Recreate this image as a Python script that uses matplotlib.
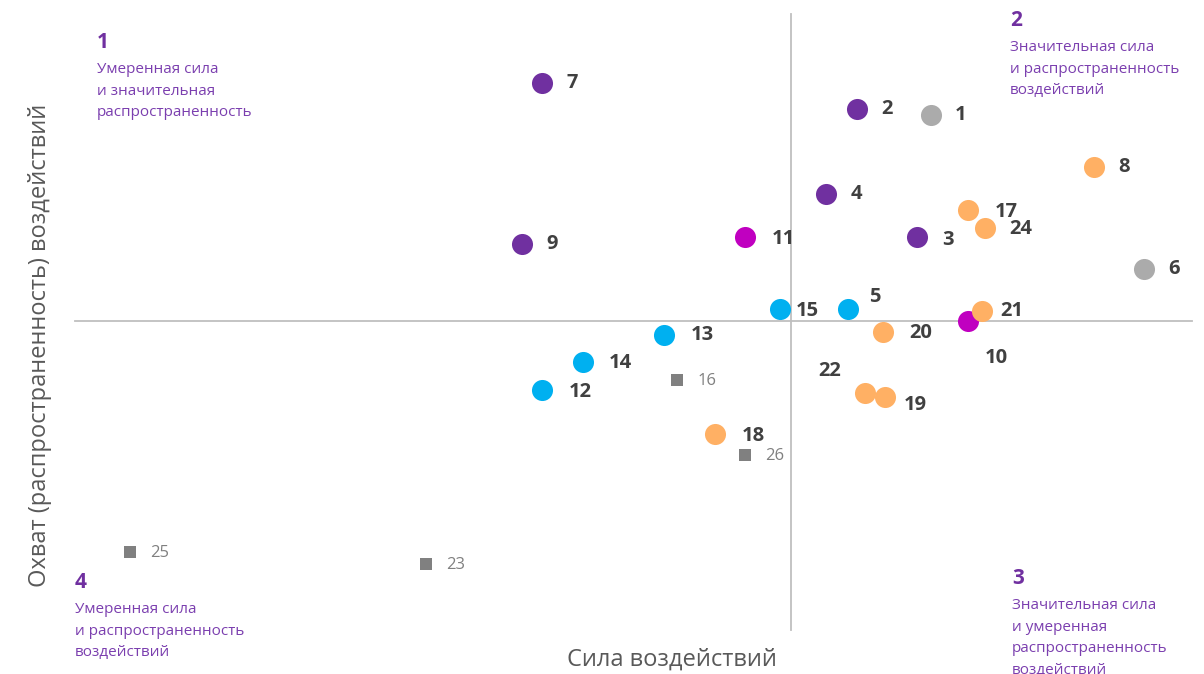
import matplotlib.pyplot as plt

plt.rcParams['font.family'] = ['Open Sans', 'DejaVu Sans']

# factor scores: strength (x) and coverage (y), axes cross at zero
ids = [1, 2, 3, 4, 5, 6, 7, 8, 9, 10, 11, 12, 13, 14, 15, 16, 17, 18, 19, 20, 21, 22, 23, 24, 25, 26]
strength = [2.8, 1.32, 2.52, 0.7, 1.14, 7.06, -4.98, 6.06, -5.38, 3.54, -0.92, -4.98, -2.54,
            -4.16, -0.22, -2.28, 3.54, -1.52, 1.88, 1.84, 3.82, 1.48, -7.3, 3.88, -13.22, -0.92]
coverage = [4.12, 4.24, 1.68, 2.54, 0.24, 1.04, 4.76, 3.08, 1.54, 0.0, 1.68, -1.38, -0.28,
            -0.82, 0.24, -1.18, 2.22, -2.26, -1.52, -0.22, 0.2, -1.44, -4.86, 1.86, -4.62, -2.68]
group = ['gray', 'purple', 'purple', 'purple', 'blue', 'gray', 'purple', 'orange', 'purple',
         'magenta', 'magenta', 'blue', 'blue', 'blue', 'blue', 'minor', 'orange', 'orange',
         'orange', 'orange', 'orange', 'orange', 'minor', 'orange', 'minor', 'minor']

colors = {'gray': '#ABABAB', 'purple': '#7030A0', 'orange': '#FFB064',
          'blue': '#00B0F0', 'magenta': '#C000C0', 'minor': '#808080'}

quadrants = [
    ('1', 'Умеренная сила\nи значительная\nраспространенность', 97, 42),
    ('2', 'Значительная сила\nи распространенность\nвоздействий', 1010, 20),
    ('3', 'Значительная сила\nи умеренная\nраспространенность\nвоздействий', 1012, 578),
    ('4', 'Умеренная сила\nи распространенность\nвоздействий', 75, 582),
]

W, H = 1204, 674
fig = plt.figure(figsize=(W / 100, H / 100), dpi=100)
ax = fig.add_axes([0, 0, 1, 1])
ax.set_xlim(-15.82, 8.26)
ax.set_ylim(-7.06, 6.42)
ax.axis('off')

# cross lines
ax.plot([-14.32, 8.02], [0, 0], color='#BFBFBF', lw=1.3, zorder=1)
ax.plot([0, 0], [-6.18, 6.14], color='#BFBFBF', lw=1.3, zorder=1)

# label offsets in pixels
offsets = {3: (31, -3), 5: (27, 12), 10: (28, -37), 11: (38, -2), 12: (38, -2), 13: (38, 0),
           14: (37, -1), 17: (38, -2), 18: (38, -2), 19: (30, -8), 20: (38, -1), 22: (-35, 22),
           24: (36, -1), 15: (27, -2)}

for i, xv, yv, g in zip(ids, strength, coverage, group):
    if g == 'minor':
        ax.scatter(xv, yv, s=70, marker='s', color=colors[g], linewidths=0, zorder=3)
        ax.annotate(str(i), (xv, yv), xytext=(30, -1), textcoords='offset pixels',
                    ha='center', va='center', fontsize=12, color='#808080')
    else:
        ax.scatter(xv, yv, s=230, marker='o', color=colors[g], linewidths=0, zorder=3)
        dx, dy = offsets.get(i, (30, 0))
        ax.annotate(str(i), (xv, yv), xytext=(dx, dy), textcoords='offset pixels',
                    ha='center', va='center', fontsize=14.5, fontweight='bold', color='#404040')

for num, text, px, py in quadrants:
    fig.text(px / W, 1 - py / H, num, ha='left', va='center',
             fontsize=15, fontweight='bold', color='#7030A0')
    fig.text(px / W, 1 - (py + 20) / H, text, ha='left', va='top',
             fontsize=11, color='#7B3FAF', linespacing=1.6)

fig.text(672 / W, 1 - 660 / H, 'Сила воздействий', ha='center', va='center',
         fontsize=17, color='#595959')
fig.text(40 / W, 1 - 345 / H, 'Охват (распространенность) воздействий', ha='center',
         va='center', rotation=90, fontsize=17, color='#595959')

fig.savefig('out.png', dpi=100)
